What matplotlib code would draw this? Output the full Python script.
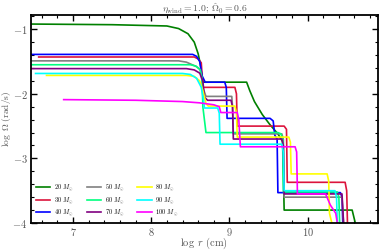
import matplotlib
matplotlib.use("Agg")
import matplotlib.pyplot as plt
from matplotlib.ticker import MultipleLocator

plt.rcParams['mathtext.fontset'] = 'cm'
plt.rcParams['font.family'] = 'DejaVu Serif'

# log r (cm), log Omega (rad/s) for each mass
labels = [r'$20\ M_\odot$', r'$30\ M_\odot$', r'$40\ M_\odot$',
          r'$50\ M_\odot$', r'$60\ M_\odot$', r'$70\ M_\odot$',
          r'$80\ M_\odot$', r'$90\ M_\odot$', r'$100\ M_\odot$']
colors = ['green', 'crimson', 'blue', 'gray', 'springgreen', 'purple',
          'yellow', 'cyan', 'magenta']

x20 = [6.46, 7.5, 8.2, 8.35, 8.47, 8.55, 8.60, 8.63, 8.65, 8.66, 9.22, 9.26, 9.32, 9.42, 9.52, 9.62, 9.68, 9.69, 9.70, 10.57, 10.61]
y20 = [-0.92, -0.93, -0.95, -0.99, -1.07, -1.2, -1.38, -1.55, -1.75, -1.82, -1.82, -1.95, -2.12, -2.32, -2.48, -2.62, -2.74, -3.2, -3.80, -3.80, -4.0]

x30 = [6.56, 8.55, 8.60, 8.64, 8.66, 8.68, 9.07, 9.09, 9.10, 9.70, 9.73, 9.74, 10.48, 10.50, 10.51]
y30 = [-1.43, -1.43, -1.46, -1.52, -1.9, -1.90, -1.90, -2.0, -2.50, -2.50, -2.55, -3.37, -3.37, -3.5, -4.0]

x40 = [6.46, 8.53, 8.58, 8.62, 8.65, 8.69, 8.94, 8.96, 8.97, 9.52, 9.56, 9.58, 9.61, 9.62, 10.42, 10.44, 10.45]
y40 = [-1.39, -1.39, -1.42, -1.5, -1.72, -1.82, -1.82, -1.9, -2.38, -2.38, -2.42, -2.64, -2.70, -3.53, -3.53, -3.6, -4.0]

x50 = [6.46, 8.35, 8.45, 8.58, 8.63, 8.66, 8.70, 9.03, 9.04, 9.05, 9.67, 9.69, 9.70, 10.44, 10.46]
y50 = [-1.49, -1.49, -1.51, -1.58, -1.63, -1.9, -2.04, -2.04, -2.2, -2.62, -2.62, -2.7, -3.60, -3.60, -4.0]

x60 = [6.46, 8.5, 8.57, 8.62, 8.65, 8.66, 8.70, 9.62, 9.66, 9.68, 9.69, 10.38, 10.40, 10.41]
y60 = [-1.55, -1.55, -1.57, -1.62, -1.75, -2.2, -2.60, -2.60, -2.62, -2.7, -3.52, -3.52, -3.6, -4.0]

x70 = [6.46, 8.45, 8.55, 8.62, 8.66, 8.68, 8.72, 9.02, 9.04, 9.05, 9.67, 9.69, 9.70, 10.44, 10.46]
y70 = [-1.61, -1.61, -1.63, -1.68, -1.8, -2.05, -2.10, -2.10, -2.2, -2.70, -2.70, -2.8, -3.55, -3.55, -4.0]

x80 = [6.66, 8.45, 8.55, 8.62, 8.66, 8.70, 8.73, 9.07, 9.09, 9.10, 9.76, 9.78, 9.79, 10.25, 10.27, 10.28, 10.31]
y80 = [-1.715, -1.715, -1.73, -1.8, -1.95, -2.15, -2.19, -2.19, -2.3, -2.67, -2.67, -2.75, -3.24, -3.24, -3.35, -3.85, -4.0]

x90 = [6.52, 8.40, 8.50, 8.58, 8.64, 8.67, 8.68, 8.85, 8.87, 8.88, 9.67, 9.69, 9.70, 10.35, 10.37, 10.38]
y90 = [-1.685, -1.685, -1.70, -1.76, -1.9, -2.1, -2.22, -2.22, -2.3, -2.78, -2.78, -2.9, -3.50, -3.50, -3.6, -4.0]

x100 = [6.88, 7.8, 8.4, 8.62, 8.80, 8.87, 8.89, 9.10, 9.12, 9.14, 9.84, 9.86, 9.87, 10.23, 10.29, 10.36, 10.38]
y100 = [-2.09, -2.10, -2.12, -2.14, -2.17, -2.20, -2.29, -2.29, -2.4, -2.82, -2.82, -2.9, -3.55, -3.55, -3.72, -3.85, -4.0]

xs = [x20, x30, x40, x50, x60, x70, x80, x90, x100]
ys = [y20, y30, y40, y50, y60, y70, y80, y90, y100]

fig = plt.figure(figsize=(3.81, 2.5), dpi=100)
ax = fig.add_axes([0.081, 0.108, 0.911, 0.832])

for x, y, c, lab in zip(xs, ys, colors, labels):
    ax.plot(x, y, color=c, lw=1.2, label=lab)

ax.set_xlim(6.46, 10.9)
ax.set_ylim(-4.0, -0.78)

xt = [7, 8, 9, 10]
yt = [-4, -3, -2, -1]
ax.set_xticks(xt)
ax.set_xticklabels([r'$%d$' % v for v in xt])
ax.set_yticks(yt)
ax.set_yticklabels([r'$%d$' % v for v in yt])
ax.xaxis.set_minor_locator(MultipleLocator(0.2))
ax.yaxis.set_minor_locator(MultipleLocator(0.2))
ax.tick_params(which='both', direction='in', top=True, right=True,
               labelsize=7.5, labelcolor='#555555')
ax.tick_params(axis='x', pad=2)
ax.tick_params(axis='y', pad=2.5)
ax.tick_params(which='major', length=4, width=1)
ax.tick_params(which='minor', length=2, width=0.8)
for s in ax.spines.values():
    s.set_linewidth(1.3)

ax.set_xlabel(r'$\log\ r\ ({\rm cm})$', fontsize=7.5, color='#555555')
ax.set_ylabel(r'$\log\ \Omega\ ({\rm rad/s})$', fontsize=6.8, color='#555555')
ax.xaxis.set_label_coords(0.5, -0.063)
ax.yaxis.set_label_coords(-0.052, 0.5)
ax.set_title(r'$\eta_{\rm wind} = 1.0;\, \hat{\Omega}_0 = 0.6$', fontsize=7,
             color='#555555', pad=2)

ax.legend(loc='lower left', ncol=3, frameon=False, fontsize=4.5,
          handlelength=2.3, columnspacing=2.0, labelspacing=0.3,
          borderaxespad=0.4, handletextpad=0.6)

fig.savefig('out.png', dpi=100)
